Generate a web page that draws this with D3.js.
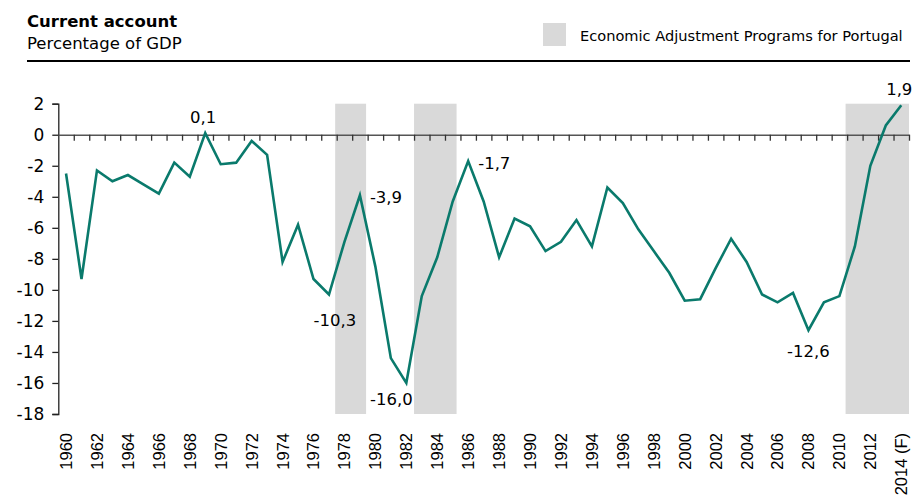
<!DOCTYPE html>
<html>
<head>
<meta charset="utf-8">
<script src="https://cdn.jsdelivr.net/npm/d3@7"></script>
<style>
  body { margin: 0; background: #fff; }
  svg { display: block; }
  .ttl { font-family: "DejaVu Sans", sans-serif; fill: #000; }
  .xlab { font-family: "Liberation Sans", Arial, sans-serif; font-size: 16.5px; fill: #000; }
</style>
</head>
<body>
<div id="chart"></div>
<script>
// Current account, % of GDP, Portugal 1960-2014 (F)
const years = d3.range(1960, 2015);
const values = [
  -2.5, -9.3, -2.3, -3.0, -2.6, -3.2, -3.8, -1.8, -2.7, 0.1,
  -1.9, -1.8, -0.4, -1.3, -8.2, -5.8, -9.3, -10.3, -6.9, -3.9,
  -8.5, -14.4, -16.0, -10.4, -7.9, -4.3, -1.7, -4.3, -7.9, -5.4,
  -5.9, -7.5, -6.9, -5.5, -7.2, -3.4, -4.4, -6.1, -7.5, -8.9,
  -10.7, -10.6, -8.6, -6.7, -8.2, -10.3, -10.8, -10.2, -12.6, -10.8,
  -10.4, -7.2, -2.0, 0.6, 1.9
];
const yTicks = [2, 0, -2, -4, -6, -8, -10, -12, -14, -16, -18];
// shaded periods (decimal years, start of band)
const programFrom = [1977.9, 1983.0, 2010.9];
const programTo = [1979.9, 1985.75, 2015.0];
// labelled points
const labelYears = [1969, 1977, 1979, 1982, 1986, 2008, 2014];
const labelPos = ['top', 'bottomright', 'right', 'bottomleft', 'right', 'bottom', 'top'];

const W = 915, H = 504;
const margin = { left: 58.3, right: 6, top: 103.7, bottom: 90 };
const innerW = W - margin.left - margin.right;
const innerH = H - margin.top - margin.bottom;

const locale = d3.formatLocale({ decimal: ',', thousands: '.', grouping: [3], currency: ['', ''], minus: '-' });
const fmt = locale.format('.1f');
const fmtTick = locale.format('d');
const labelOf = y => y === 2014 ? '2014 (F)' : String(y);

const svg = d3.select('#chart').append('svg')
  .attr('width', W)
  .attr('height', H);

// Title block
svg.append('text').attr('class', 'ttl')
  .attr('x', 27).attr('y', 27)
  .attr('font-size', 16.5).attr('font-weight', 'bold')
  .text('Current account');
svg.append('text').attr('class', 'ttl')
  .attr('x', 27).attr('y', 49)
  .attr('font-size', 16.5)
  .text('Percentage of GDP');
svg.append('line')
  .attr('x1', 27).attr('x2', 910)
  .attr('y1', 61).attr('y2', 61)
  .attr('stroke', '#000').attr('stroke-width', 2);

// Legend
svg.append('rect')
  .attr('x', 543).attr('y', 23).attr('width', 23).attr('height', 23)
  .attr('fill', '#d9d9d9');
svg.append('text').attr('class', 'ttl')
  .attr('x', 580).attr('y', 41)
  .attr('font-size', 14.6)
  .text('Economic Adjustment Programs for Portugal');

const g = svg.append('g')
  .attr('transform', `translate(${margin.left},${margin.top})`);

const x = d3.scaleBand()
  .domain(years)
  .range([0, innerW])
  .padding(0);

const xYear = d3.scaleLinear()
  .domain([years[0], years[years.length - 1] + 1])
  .range([0, innerW]);

const y = d3.scaleLinear()
  .domain([-18, 2])
  .range([innerH, 0]);

// Shaded program periods
g.selectAll('.prog')
  .data(d3.zip(programFrom, programTo))
  .join('rect')
  .attr('class', 'prog')
  .attr('x', d => xYear(d[0]))
  .attr('width', d => Math.min(xYear(d[1]), innerW) - xYear(d[0]))
  .attr('y', 0)
  .attr('height', innerH)
  .attr('fill', '#d9d9d9');

// Y axis
const yAxis = d3.axisLeft(y)
  .tickValues(yTicks)
  .tickSize(6)
  .tickPadding(8)
  .tickFormat(fmtTick);
const yg = g.append('g').call(yAxis);
yg.select('.domain').attr('stroke', '#222').attr('stroke-width', 1.3);
yg.selectAll('.tick line').attr('stroke', '#222').attr('stroke-width', 1.3);
yg.selectAll('.tick text')
  .attr('font-family', '"DejaVu Sans", sans-serif')
  .attr('font-size', 17)
  .attr('fill', '#000');

// Zero line with year ticks
const zg = g.append('g')
  .attr('transform', `translate(0,${y(0)})`)
  .call(d3.axisBottom(xYear)
    .tickValues(years.slice(1).concat([2015]))
    .tickSize(6)
    .tickSizeOuter(0)
    .tickFormat(''));
zg.select('.domain').attr('stroke', '#555').attr('stroke-width', 1.5);
zg.selectAll('.tick line').attr('stroke', '#333').attr('stroke-width', 1.3);

// X labels (every 2 years)
g.append('g')
  .attr('transform', `translate(0,${innerH})`)
  .selectAll('text')
  .data(years.filter((d, i) => i % 2 === 0))
  .join('text')
  .attr('class', 'xlab')
  .attr('transform', d => `translate(${x(d) + x.bandwidth() / 2},19) rotate(-90)`)
  .attr('text-anchor', 'end')
  .attr('dy', '0.36em')
  .text(labelOf);

// Line
const pts = years.map((yr, i) => ({ year: yr, value: values[i] }));
const line = d3.line()
  .x(d => x(d.year) + x.bandwidth() / 2)
  .y(d => y(d.value));
g.append('path')
  .datum(pts)
  .attr('d', line)
  .attr('fill', 'none')
  .attr('stroke', '#0a7a6c')
  .attr('stroke-width', 2.6)
  .attr('stroke-linejoin', 'miter');

// Value labels
const offsets = {
  top: { dx: -2, dy: -10, anchor: 'middle' },
  bottom: { dx: 0, dy: 27, anchor: 'middle' },
  bottomright: { dx: 6, dy: 31, anchor: 'middle' },
  right: { dx: 10, dy: 8, anchor: 'start' },
  bottomleft: { dx: -15, dy: 22, anchor: 'middle' },
};
g.selectAll('.vlab')
  .data(labelYears.map((yr, i) => ({ year: yr, value: values[years.indexOf(yr)], pos: labelPos[i] })))
  .join('text')
  .attr('class', 'vlab ttl')
  .attr('font-size', 16.5)
  .attr('x', d => x(d.year) + x.bandwidth() / 2 + offsets[d.pos].dx)
  .attr('y', d => y(d.value) + offsets[d.pos].dy)
  .attr('text-anchor', d => offsets[d.pos].anchor)
  .text(d => fmt(d.value));
</script>
</body>
</html>
